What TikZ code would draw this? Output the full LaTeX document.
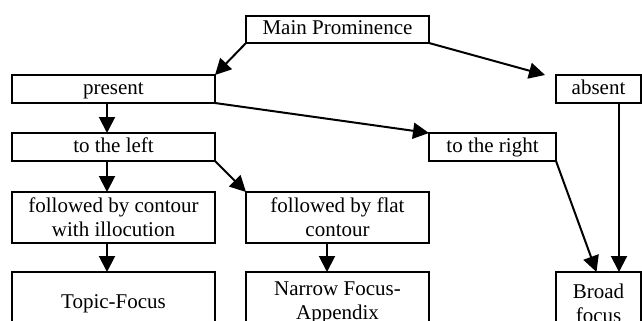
\documentclass[tikz,border=0pt]{standalone}
\usepackage{fontspec}
\setmainfont{Liberation Serif}
\usetikzlibrary{arrows.meta}
\begin{document}
\begin{tikzpicture}[x=1pt,y=-1pt,
  box/.style={draw,line width=2pt,inner sep=0pt,outer sep=0pt,align=center,
    font=\fontsize{21}{24}\selectfont},
  oneline/.style={box,text height=15pt,text depth=4pt},
  arr/.style={line width=2pt,-{Triangle[length=16pt,width=16pt]}}]
\useasboundingbox (0,0) rectangle (642,321);
\clip (0,0) rectangle (642,321);
\node[oneline,minimum width=183pt,minimum height=27pt] (main) at (337.5,29.5) {Main Prominence};
\node[oneline,minimum width=203pt,minimum height=28pt] (present) at (113.5,89) {present};
\node[oneline,minimum width=85pt,minimum height=28pt] (absent) at (598.5,89) {absent};
\node[oneline,minimum width=203pt,minimum height=28pt] (left) at (113.5,147) {to the left};
\node[oneline,minimum width=127pt,minimum height=28pt] (right) at (492.5,147) {to the right};
\node[box,minimum width=203pt,minimum height=51pt] (contour) at (113.5,217.5) {followed by contour\\with illocution};
\node[box,minimum width=183pt,minimum height=51pt] (flat) at (337.5,217.5) {followed by flat\\contour};
\node[oneline,minimum width=203pt,minimum height=62pt] (topic) at (113.5,303) {Topic-Focus};
\node[box,minimum width=183pt,minimum height=62pt] (narrow) at (337.5,303) {Narrow Focus-\\Appendix};
\node[box,minimum width=85pt,minimum height=62pt] (broad) at (598.5,303) {Broad\\focus};
\draw[arr] (main.south west) -- (present.north east);
\draw[arr] (main.south east) -- ([xshift=-11pt]absent.north west);
\draw[arr] ([xshift=-6.5pt]present.south) -- ([xshift=-6.5pt]left.north);
\draw[arr] (present.south east) -- (right.north west);
\draw[arr] ([xshift=-6.5pt]left.south) -- ([xshift=-6.5pt]contour.north);
\draw[arr] (left.south east) -- (flat.north west);
\draw[arr] ([xshift=-6.5pt]contour.south) -- ([xshift=-6.5pt]topic.north);
\draw[arr] ([xshift=-10.5pt]flat.south) -- ([xshift=-10.5pt]narrow.north);
\draw[arr] (right.south east) -- ([xshift=-2pt]broad.north);
\draw[arr] ([xshift=20.5pt]absent.south) -- ([xshift=20.5pt]broad.north);
\end{tikzpicture}
\end{document}
